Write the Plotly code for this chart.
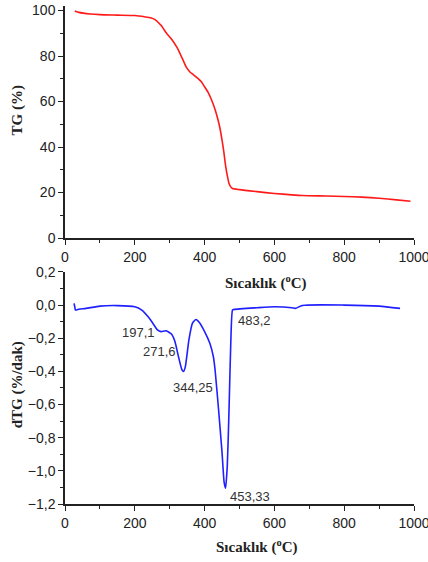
import plotly.graph_objects as go

# TG curve (temperature °C, mass %)
tg_temp = [28, 40, 72, 100, 150, 200, 230, 245, 258, 275, 291, 305, 320, 330, 339, 348, 358, 368, 380, 390, 400, 410, 420, 430, 440, 445, 450, 455, 460, 465, 470, 475, 480, 500, 550, 600, 650, 680, 750, 800, 850, 900, 950, 990]
tg_val = [99.8, 99.2, 98.5, 98.2, 98.0, 97.8, 97.2, 96.8, 96.0, 93.5, 90.0, 87.5, 84.0, 81.0, 78.0, 75.0, 73.0, 71.8, 70.3, 68.8, 66.5, 64.0, 60.7, 56.5, 51.0, 47.5, 43.0, 38.0, 32.0, 27.5, 24.0, 22.5, 21.8, 21.3, 20.4, 19.6, 19.0, 18.7, 18.5, 18.3, 18.0, 17.5, 16.8, 16.2]

# dTG curve (temperature °C, %/dak)
dtg_temp = [26, 28, 30, 40, 60, 100, 150, 200, 220, 240, 255, 265, 275, 290, 305, 315, 325, 335, 340, 345, 355, 365, 375, 385, 400, 415, 425, 430, 440, 450, 456, 460, 465, 470, 475, 480, 485, 550, 600, 650, 660, 680, 800, 900, 960]
dtg_val = [0.01, -0.01, -0.03, -0.025, -0.02, -0.006, -0.003, -0.01, -0.03, -0.075, -0.12, -0.15, -0.16, -0.155, -0.175, -0.22, -0.31, -0.39, -0.40, -0.37, -0.21, -0.11, -0.087, -0.105, -0.16, -0.23, -0.31, -0.39, -0.63, -0.89, -1.07, -1.105, -0.97, -0.63, -0.23, -0.03, -0.026, -0.016, -0.01, -0.016, -0.02, -0.002, 0.0, -0.006, -0.02]

# Peak labels
peak_text = ["197,1", "271,6", "344,25", "453,33", "483,2"]
peak_x = [212, 272, 367, 530, 544]
peak_y = [-0.163, -0.278, -0.50, -1.153, -0.09]

fig = go.Figure()
fig.add_trace(go.Scatter(x=tg_temp, y=tg_val, mode="lines", line=dict(color="#ff1a1a", width=1.6, shape="spline", smoothing=0.6), xaxis="x", yaxis="y", showlegend=False))
fig.add_trace(go.Scatter(x=dtg_temp, y=dtg_val, mode="lines", line=dict(color="#1f1fff", width=1.6, shape="spline", smoothing=0.5), xaxis="x2", yaxis="y2", showlegend=False))

tickfont = dict(family="Liberation Sans, Arial", size=14, color="#222")
common_x = dict(range=[0, 1000], dtick=200, tick0=0, showgrid=False, zeroline=False, showline=True,
                linecolor="#222", linewidth=1.5, ticks="outside", ticklen=5, tickwidth=1.3, tickcolor="#222",
                tickfont=tickfont, ticklabeloverflow="allow", automargin=False,
                minor=dict(dtick=100, ticks="outside", ticklen=3, tickcolor="#222"))

fig.update_layout(
    width=428, height=562,
    margin=dict(l=65, r=14, t=6, b=58),
    paper_bgcolor="white", plot_bgcolor="white",
    separators=",.",
    xaxis=dict(domain=[0, 1], anchor="y", **common_x),
    yaxis=dict(domain=[0.534, 1], anchor="x", range=[0, 102], dtick=20, tick0=0, showgrid=False, zeroline=False,
               showline=True, linecolor="#222", linewidth=1.5, ticks="outside", ticklen=5, tickwidth=1.3,
               tickcolor="#222", tickfont=tickfont, ticklabeloverflow="allow", automargin=False,
               minor=dict(dtick=10, ticks="outside", ticklen=3, tickcolor="#222")),
    xaxis2=dict(domain=[0, 1], anchor="y2", **common_x),
    yaxis2=dict(domain=[0, 0.466], anchor="x2", range=[-1.2, 0.2], dtick=0.2, tick0=0, tickformat=".1f",
                showgrid=False, zeroline=False, showline=True, linecolor="#222", linewidth=1.5, ticks="outside",
                ticklen=5, tickwidth=1.3, tickcolor="#222", tickfont=tickfont, ticklabeloverflow="allow",
                automargin=False,
                minor=dict(dtick=0.1, ticks="outside", ticklen=3, tickcolor="#222")),
)

titlefont = dict(family="Liberation Serif, Times New Roman", size=15, color="#222")
annos = [
    dict(text="<b>Sıcaklık (<sup>o</sup>C)</b>", xref="paper", yref="paper", x=0.575, y=0.444, showarrow=False, font=titlefont, xanchor="center", yanchor="middle"),
    dict(text="<b>Sıcaklık (<sup>o</sup>C)</b>", xref="paper", yref="paper", x=0.55, y=-0.086, showarrow=False, font=titlefont, xanchor="center", yanchor="middle"),
    dict(text="<b>TG (%)</b>", xref="paper", yref="paper", x=-0.135, y=0.79, showarrow=False, font=titlefont, textangle=-90, xanchor="center", yanchor="middle"),
    dict(text="<b>dTG (%/dak)</b>", xref="paper", yref="paper", x=-0.135, y=0.24, showarrow=False, font=titlefont, textangle=-90, xanchor="center", yanchor="middle"),
]
for t, x, y in zip(peak_text, peak_x, peak_y):
    annos.append(dict(text=t, x=x, y=y, xref="x2", yref="y2", showarrow=False,
                      font=dict(family="Liberation Sans, Arial", size=13, color="#333"), xanchor="center", yanchor="middle"))
fig.update_layout(annotations=annos)

fig.write_html("out.html", config={"displayModeBar": False}, post_script="document.body.style.margin='0';")
